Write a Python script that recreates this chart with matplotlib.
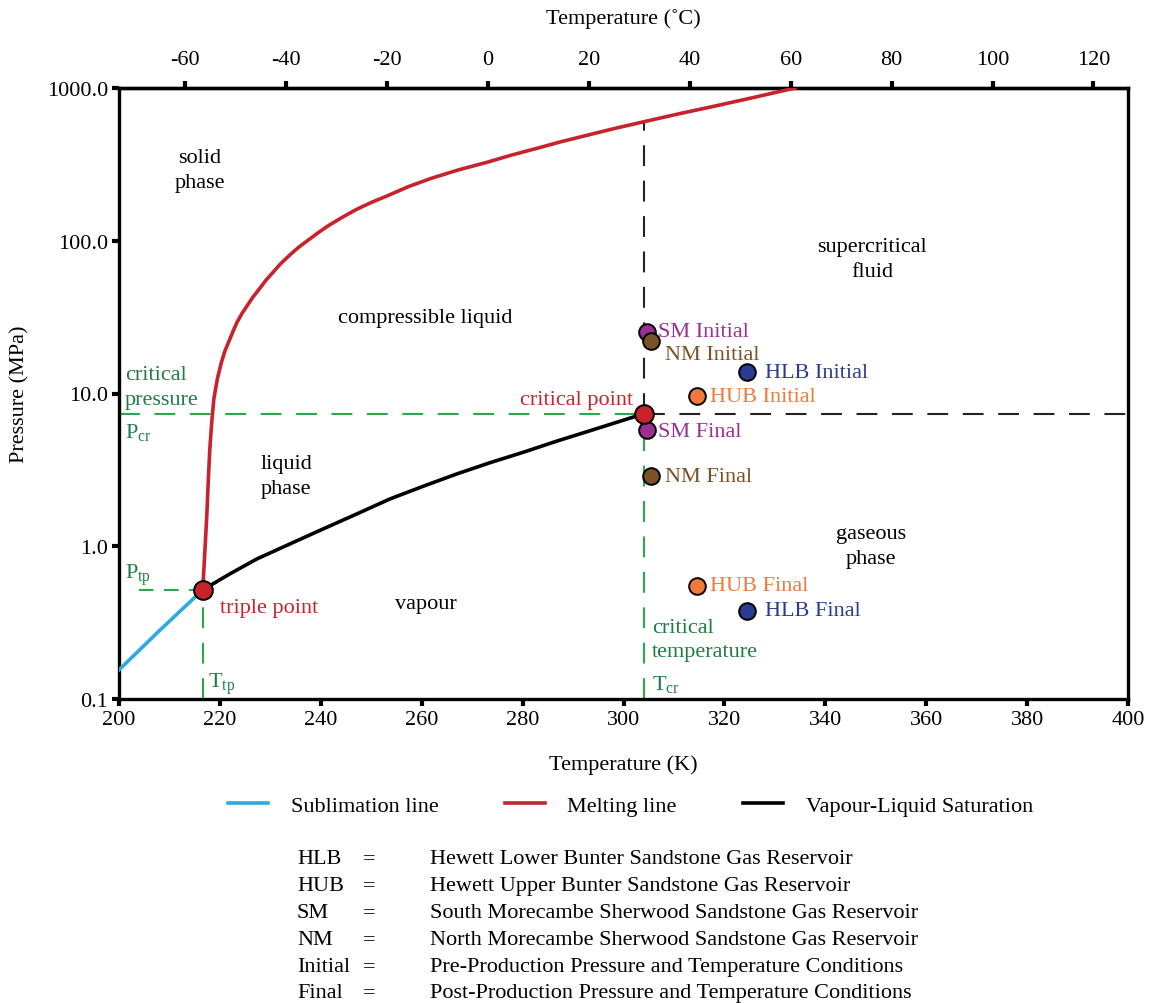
import matplotlib
matplotlib.use('Agg')
import matplotlib.pyplot as plt

plt.rcParams['font.family'] = ['Liberation Serif', 'DejaVu Serif']
plt.rcParams['mathtext.fontset'] = 'custom'
plt.rcParams['mathtext.rm'] = 'Liberation Serif'
plt.rcParams['mathtext.it'] = 'Liberation Serif:italic'
plt.rcParams['axes.unicode_minus'] = False

# --- data ---
sub_T = [200.0, 208.0, 216.6]
sub_P = [0.155, 0.28, 0.518]

melt_T = [216.6, 217.0, 217.4, 217.7, 218.0, 218.4, 218.8, 219.5, 220.3, 221.0,
          221.8, 222.6, 223.4, 224.4, 225.5, 226.6, 227.8, 229.1, 230.5, 232.0,
          233.7, 235.5, 237.5, 239.5, 241.5, 244.2, 247.0, 250.0, 253.2, 257.5,
          262.0, 267.3, 272.9, 277.7, 282.5, 287.4, 292.4, 298.2, 304.0, 311.0,
          318.0, 326.0, 334.0]
melt_P = [0.518, 0.9, 1.58, 2.7, 4.33, 6.6, 9.2, 12.5, 16.0, 19.0,
          22.0, 25.5, 29.3, 33.5, 38.0, 43.0, 48.3, 55.0, 62.0, 70.5,
          79.8, 90.0, 101.0, 113.0, 125.5, 142.0, 160.0, 178.0, 197.0, 227.0,
          257.0, 291.0, 326.0, 363.0, 400.0, 443.0, 487.0, 543.0, 601.0, 678.0,
          760.0, 870.0, 1000.0]

vap_T = [216.6, 222.0, 227.3, 234.0, 240.5, 247.0, 253.7, 260.3, 266.9, 273.5,
         280.1, 286.8, 293.4, 298.8, 304.1]
vap_P = [0.518, 0.66, 0.825, 1.04, 1.30, 1.62, 2.04, 2.47, 2.97, 3.52,
         4.12, 4.88, 5.71, 6.50, 7.38]

T_tp, P_tp = 216.6, 0.518
T_cr, P_cr = 304.1, 7.38

res_names = ['SM', 'NM', 'HLB', 'HUB']
res_T = [304.7, 305.5, 324.5, 314.6]
res_P_initial = [25.3, 22.1, 13.8, 9.6]
res_P_final = [5.77, 2.88, 0.377, 0.55]
res_colors = ['#9B2F92', '#7A5228', '#2B3A93', '#EF7A39']

abbrev = ['HLB', 'HUB', 'SM', 'NM', 'Initial', 'Final']
abbrev_text = ['Hewett Lower Bunter Sandstone Gas Reservoir',
               'Hewett Upper Bunter Sandstone Gas Reservoir',
               'South Morecambe Sherwood Sandstone Gas Reservoir',
               'North Morecambe Sherwood Sandstone Gas Reservoir',
               'Pre-Production Pressure and Temperature Conditions',
               'Post-Production Pressure and Temperature Conditions']

red = '#C8232C'
blue = '#29ABE2'
green = '#2BA84A'
dgreen = '#1E7D45'
fs = 16

fig = plt.figure(figsize=(11.57, 10.04), dpi=100)
ax = fig.add_axes([119 / 1157, 1 - 700 / 1004, 1009 / 1157, 611 / 1004])
ax.set_yscale('log')
ax.set_xlim(200, 400)
ax.set_ylim(0.1, 1000)

# dashed guide lines
dash = (0, (10, 7))
ax.plot([200, T_cr], [P_cr, P_cr], color=green, lw=1.5, ls=dash, zorder=1)
ax.plot([T_cr, 400], [P_cr, P_cr], color='#222222', lw=1.5, ls=dash, zorder=1)
ax.plot([T_cr, T_cr], [P_cr, 601], color='#222222', lw=1.5, ls=dash, zorder=1)
ax.plot([T_cr, T_cr], [0.1, P_cr], color=green, lw=1.5, ls=dash, zorder=1)
ax.plot([204, T_tp], [P_tp, P_tp], color=green, lw=1.5, ls=(0, (7, 5)), zorder=1)
ax.plot([T_tp, T_tp], [0.1, P_tp], color=green, lw=1.5, ls=dash, zorder=1)

l_sub, = ax.plot(sub_T, sub_P, color=blue, lw=2.6, label='Sublimation line', zorder=3)
l_melt, = ax.plot(melt_T, melt_P, color=red, lw=2.6, label='Melting line', zorder=3)
l_vap, = ax.plot(vap_T, vap_P, color='black', lw=2.6, label='Vapour-Liquid Saturation', zorder=3)

# reservoirs
offs_init = [(8, 0), (10, -10), (13, 0), (9, 0)]
offs_final = [(8, -1), (10, 0), (13, 0), (9, 0)]
for i in range(len(res_names)):
    ax.plot(res_T[i], res_P_initial[i], 'o', ms=12, mfc=res_colors[i], mec='black', mew=1.4, zorder=5)
    ax.plot(res_T[i], res_P_final[i], 'o', ms=12, mfc=res_colors[i], mec='black', mew=1.4, zorder=5)
    ax.annotate(res_names[i] + ' Initial', (res_T[i], res_P_initial[i]), xytext=offs_init[i],
                textcoords='offset points', color=res_colors[i], fontsize=fs, va='center', ha='left')
    ax.annotate(res_names[i] + ' Final', (res_T[i], res_P_final[i]), xytext=offs_final[i],
                textcoords='offset points', color=res_colors[i], fontsize=fs, va='center', ha='left')

ax.plot(T_cr, P_cr, 'o', ms=13.5, mfc=red, mec='black', mew=1.4, zorder=6)
ax.plot(T_tp, P_tp, 'o', ms=13.5, mfc=red, mec='black', mew=1.4, zorder=6)

# region labels
ax.text(216, 290, 'solid\nphase', ha='center', va='center', fontsize=fs, linespacing=1.4)
ax.text(260.7, 31.6, 'compressible liquid', ha='center', va='center', fontsize=fs)
ax.text(349.3, 76, 'supercritical\nfluid', ha='center', va='center', fontsize=fs, linespacing=1.4)
ax.text(233.1, 2.88, 'liquid\nphase', ha='center', va='center', fontsize=fs, linespacing=1.4)
ax.text(260.9, 0.42, 'vapour', ha='center', va='center', fontsize=fs)
ax.text(349.1, 1.0, 'gaseous\nphase', ha='center', va='center', fontsize=fs, linespacing=1.4)

ax.text(201.2, 11.0, 'critical\npressure', ha='left', va='center', fontsize=fs, color=dgreen, linespacing=1.4)
ax.text(201.2, 5.6, r'P$_{\mathrm{cr}}$', ha='left', va='center', fontsize=fs, color=dgreen)
ax.text(201.2, 0.66, r'P$_{\mathrm{tp}}$', ha='left', va='center', fontsize=fs, color=dgreen)
ax.text(217.6, 0.127, r'T$_{\mathrm{tp}}$', ha='left', va='center', fontsize=fs, color=dgreen)
ax.text(305.6, 0.245, 'critical\ntemperature', ha='left', va='center', fontsize=fs, color=dgreen, linespacing=1.4)
ax.text(305.6, 0.127, r'T$_{\mathrm{cr}}$', ha='left', va='center', fontsize=fs, color=dgreen)
ax.text(220, 0.40, 'triple point', ha='left', va='center', fontsize=fs, color=red)
ax.text(302, 9.2, 'critical point', ha='right', va='center', fontsize=fs, color=red)

# axes styling
for s in ax.spines.values():
    s.set_linewidth(2.4)
ax.set_yticks([0.1, 1, 10, 100, 1000])
ax.set_yticklabels(['0.1', '1.0', '10.0', '100.0', '1000.0'])
ax.yaxis.set_minor_locator(matplotlib.ticker.NullLocator())
ax.set_xticks(range(200, 401, 20))
ax.tick_params(which='major', direction='out', length=5, width=3, labelsize=fs, pad=3)
ax.set_xlabel('Temperature (K)', fontsize=fs, labelpad=18)
ax.set_ylabel('Pressure (MPa)', fontsize=fs, labelpad=12)

top = ax.secondary_xaxis('top', functions=(lambda t: t - 273.15, lambda c: c + 273.15))
top.set_xticks(range(-60, 121, 20))
top.tick_params(direction='out', length=5, width=3, labelsize=fs, pad=9)
top.spines['top'].set_linewidth(2.4)
top.set_xlabel('Temperature (˚C)', fontsize=fs, labelpad=19)

fig.legend(handles=[l_sub, l_melt, l_vap], loc='center', bbox_to_anchor=(0.545, 1 - 807 / 1004),
           ncol=3, frameon=False, fontsize=fs, handlelength=1.8, handletextpad=1.0,
           columnspacing=3.0)

for i in range(len(abbrev)):
    y = 1 - (860 + i * 26.8) / 1004
    fig.text(297 / 1157, y, abbrev[i], fontsize=fs, va='center', ha='left')
    fig.text(363 / 1157, y, '=', fontsize=fs, va='center', ha='left')
    fig.text(430 / 1157, y, abbrev_text[i], fontsize=fs, va='center', ha='left')

fig.savefig('out.png', dpi=100)
